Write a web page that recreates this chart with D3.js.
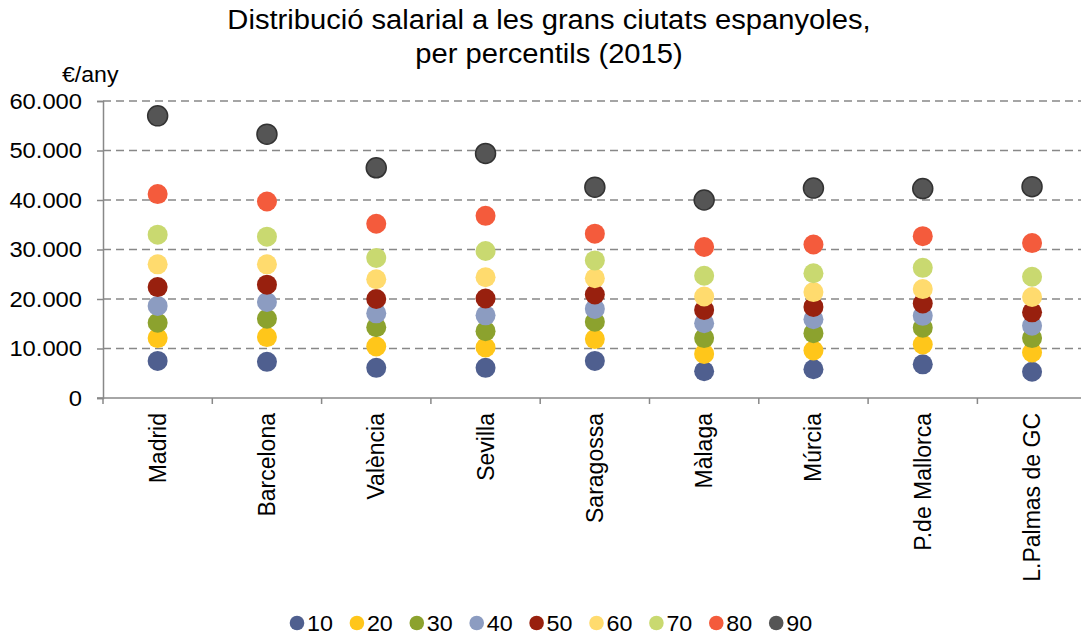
<!DOCTYPE html>
<html>
<head>
<meta charset="utf-8">
<script src="https://cdn.jsdelivr.net/npm/d3@7"></script>
<style>
  body { margin: 0; background: #fff; }
  svg { display: block; font-family: "Liberation Sans", Arial, sans-serif; }
</style>
</head>
<body>
<div id="chart"></div>
<script>
// cities on the x axis
const cities = ["Madrid", "Barcelona", "València", "Sevilla", "Saragossa", "Màlaga", "Múrcia", "P.de Mallorca", "L.Palmas de GC"];

// percentile series (€/any), one value per city
const p10 = [7500, 7300, 6100, 6100, 7500, 5400, 5800, 6800, 5300];
const p20 = [12100, 12300, 10400, 10200, 11900, 8900, 9600, 10800, 9200];
const p30 = [15200, 16000, 14300, 13500, 15400, 12100, 13100, 14200, 12100];
const p40 = [18600, 19400, 17100, 16700, 18000, 15100, 15900, 16600, 14600];
const p50 = [22400, 22900, 20000, 20100, 20900, 17800, 18400, 19100, 17300];
const p60 = [27000, 27000, 24000, 24400, 24200, 20500, 21400, 22000, 20400];
const p70 = [33000, 32600, 28300, 29700, 27800, 24700, 25200, 26300, 24500];
const p80 = [41200, 39700, 35200, 36800, 33200, 30500, 31000, 32700, 31300];
const p90 = [57000, 53300, 46500, 49400, 42600, 40000, 42400, 42300, 42700];

const seriesNames = ["10", "20", "30", "40", "50", "60", "70", "80", "90"];
const seriesValues = [p10, p20, p30, p40, p50, p60, p70, p80, p90];
const yTicks = [0, 10000, 20000, 30000, 40000, 50000, 60000];

const colors = ["#4f5f8f", "#ffc61a", "#8ca22e", "#8c9cc1", "#98200e", "#ffdb6e", "#c9d970", "#f45b3c", "#555555"];

const W = 1081, H = 637;
const plotLeft = 103, plotTop = 101, plotBottom = 398;
const step = 109.3;

const svg = d3.select("#chart").append("svg").attr("width", W).attr("height", H);

const x = d3.scaleBand().domain(cities).range([plotLeft, plotLeft + step * cities.length]);
const y = d3.scaleLinear().domain([0, 60000]).range([plotBottom, plotTop]);

const fmt = (v) => d3.format(",")(v).replace(/,/g, ".");

// title (the original text is a little wide, hence the x-scale)
svg.append("text")
  .attr("transform", "translate(549,29) scale(1.08,1)")
  .attr("text-anchor", "middle").attr("font-size", 27).attr("fill", "#000")
  .text("Distribució salarial a les grans ciutats espanyoles,");
svg.append("text")
  .attr("transform", "translate(549,63) scale(1.08,1)")
  .attr("text-anchor", "middle").attr("font-size", 27).attr("fill", "#000")
  .text("per percentils (2015)");

svg.append("text")
  .attr("transform", "translate(62,82) scale(1.05,1)")
  .attr("font-size", 22).attr("fill", "#000")
  .text("€/any");

// grid
svg.append("g")
  .selectAll("line")
  .data(yTicks.filter((d) => d > 0))
  .join("line")
  .attr("x1", plotLeft).attr("x2", W)
  .attr("y1", (d) => y(d)).attr("y2", (d) => y(d))
  .attr("stroke", "#888").attr("stroke-width", 1.5)
  .attr("stroke-dasharray", "8,5");

// y axis
const yAxis = svg.append("g")
  .attr("transform", `translate(${plotLeft},0)`)
  .call(d3.axisLeft(y).tickValues(yTicks).tickFormat(fmt).tickSize(6).tickPadding(15));
yAxis.select(".domain").attr("stroke", "#888").attr("stroke-width", 1.5);
yAxis.selectAll(".tick line").attr("stroke", "#888").attr("stroke-width", 1.5);
yAxis.selectAll(".tick text")
  .attr("font-size", 22).attr("fill", "#000")
  .attr("font-family", "Liberation Sans, Arial, sans-serif")
  .attr("x", -21 / 1.08)
  .attr("transform", "scale(1.08,1)");

// x axis line and ticks at category boundaries
svg.append("line")
  .attr("x1", plotLeft - 6).attr("x2", W)
  .attr("y1", plotBottom).attr("y2", plotBottom)
  .attr("stroke", "#888").attr("stroke-width", 1.5);
svg.append("g")
  .selectAll("line")
  .data(cities)
  .join("line")
  .attr("x1", (d) => x(d)).attr("x2", (d) => x(d))
  .attr("y1", plotBottom).attr("y2", plotBottom + 6)
  .attr("stroke", "#888").attr("stroke-width", 1.5);

svg.append("g")
  .selectAll("text")
  .data(cities)
  .join("text")
  .attr("transform", (d) => `translate(${x(d) + x.bandwidth() / 2 + 8},413) rotate(-90)`)
  .attr("text-anchor", "end")
  .attr("font-size", 23).attr("fill", "#000")
  .text((d) => d);

// dots, series by series
seriesValues.forEach((vals, si) => {
  svg.append("g")
    .selectAll("circle")
    .data(vals)
    .join("circle")
    .attr("cx", (d, i) => x(cities[i]) + x.bandwidth() / 2)
    .attr("cy", (d) => y(d))
    .attr("r", 10)
    .attr("fill", colors[si])
    .attr("stroke", si === 8 ? "#333" : "none")
    .attr("stroke-width", 1.5);
});

// legend
const legend = svg.append("g")
  .selectAll("g")
  .data(seriesNames)
  .join("g")
  .attr("transform", (d, i) => `translate(${297 + i * 59.9},623)`);
legend.append("circle").attr("r", 7.3).attr("fill", (d, i) => colors[i]);
legend.append("text")
  .attr("transform", "translate(10,8) scale(1.06,1)")
  .attr("font-size", 22).attr("fill", "#000")
  .text((d) => d);
</script>
</body>
</html>
